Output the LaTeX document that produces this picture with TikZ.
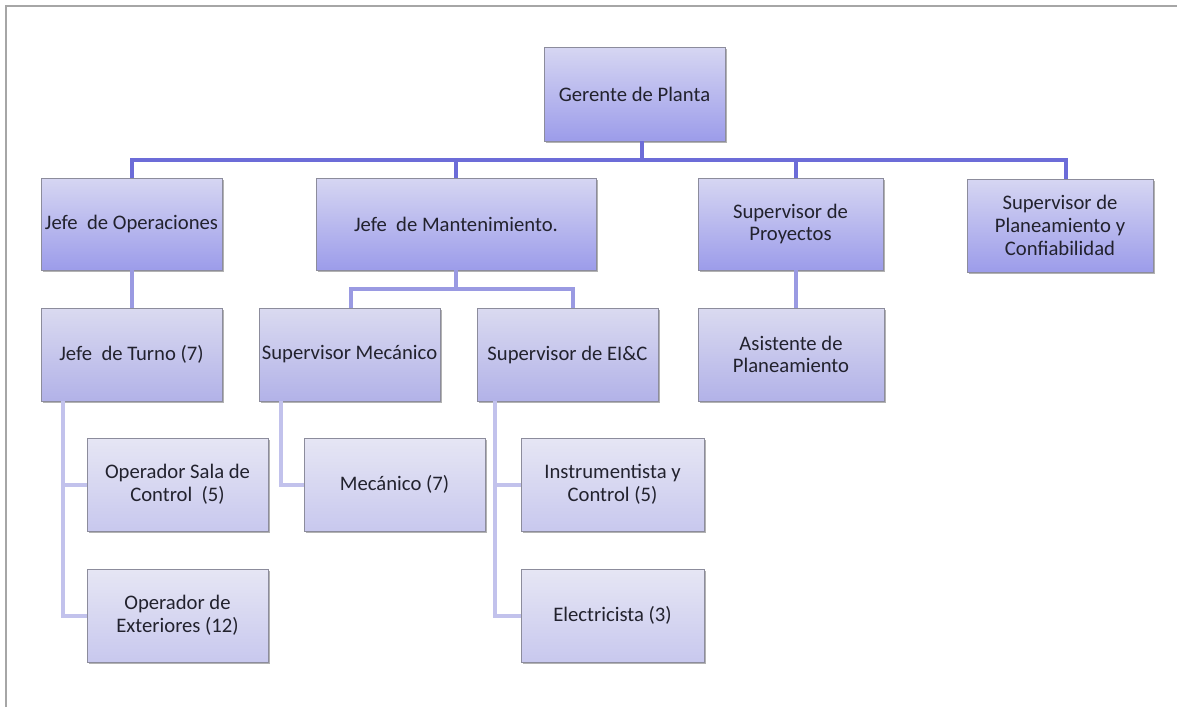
\documentclass[tikz,border=0pt]{standalone}
\usepackage{fontspec}
\setmainfont{Carlito}
\usetikzlibrary{calc,shadows}

\definecolor{frameGray}{HTML}{A6A6A6}
\definecolor{boxEdge}{HTML}{8C8C9C}
\definecolor{txt}{HTML}{22222E}
\definecolor{busAcol}{HTML}{6C6CD8}
\definecolor{busBcol}{HTML}{9A9AE2}
\definecolor{busCcol}{HTML}{C2C2EC}
\definecolor{aTop}{HTML}{D6D6F2}
\definecolor{aBot}{HTML}{9C9CEA}
\definecolor{bTop}{HTML}{DADAF0}
\definecolor{bBot}{HTML}{B2B2E8}
\definecolor{cTop}{HTML}{E6E6F4}
\definecolor{cBot}{HTML}{C8C8EE}

\tikzset{
  sz/.style 2 args={minimum width=#1*0.75pt, minimum height=#2*0.75pt},
  box/.style={draw=boxEdge, line width=0.6pt, align=center, inner xsep=0pt, inner ysep=1pt,
    text=txt, font=\fontsize{15.5}{17}\selectfont,
    drop shadow={shadow xshift=1.2pt, shadow yshift=-1.2pt, opacity=0.3, fill=black}},
  lvA/.style={box, top color=aTop, bottom color=aBot},
  lvB/.style={box, top color=bTop, bottom color=bBot},
  lvC/.style={box, top color=cTop, bottom color=cBot},
  busA/.style={draw=busAcol, line width=3pt, line join=miter},
  busB/.style={draw=busBcol, line width=3pt, line join=miter},
  busC/.style={draw=busCcol, line width=3pt, line join=miter},
}

\begin{document}
\begin{tikzpicture}[x=0.75pt, y=-0.75pt]
\useasboundingbox (0,0) rectangle (1177,707);

% page frame (left and top edges)
\draw[frameGray, line width=2.2pt] (6,707) -- (6,6) -- (1177,6);

% top level
\node[lvA, sz={181}{94}] (ger) at (634.5,94) {Gerente de Planta};

% second level
\node[lvA, sz={181}{92}] (jop) at (131.5,224) {Jefe\ \ de Operaciones};
\node[lvA, sz={280}{92}] (jman) at (456,224) {Jefe\ \ de Mantenimiento.};
\node[lvA, sz={185}{92}] (sproy) at (790.5,224) {Supervisor de\\Proyectos};
\node[lvA, sz={186}{93}] (splan) at (1060,225.5) {Supervisor de\\Planeamiento y\\Confiabilidad};

% third level
\node[lvB, sz={181}{93}] (jtur) at (131.5,354.5) {Jefe\ \ de Turno (7)};
\node[lvB, sz={181}{93}] (smec) at (349.5,354.5) {Supervisor Mecánico};
\node[lvB, sz={181}{93}] (seic) at (567.5,354.5) {Supervisor de EI\&C};
\node[lvB, sz={186}{93}] (asis) at (791,354.5) {Asistente de\\Planeamiento};

% fourth level
\node[lvC, sz={181}{93}] (osc) at (177.5,484.5) {Operador Sala de\\Control\ \ (5)};
\node[lvC, sz={181}{93}] (oext) at (177.5,615.5) {Operador de\\Exteriores (12)};
\node[lvC, sz={181}{93}] (mec) at (394.5,484.5) {Mecánico (7)};
\node[lvC, sz={183}{93}] (inst) at (612.5,484.5) {Instrumentista y\\Control (5)};
\node[lvC, sz={183}{93}] (elec) at (612.5,615.5) {Electricista (3)};

% main bus under the plant manager
\coordinate (bus) at (0,160);
\draw[busA] ($(ger.south)+(7.5,0)$) -- ($(ger.south |- bus)+(7.5,0)$);
\draw[busA] (jop.north) -- (jop.north |- bus) -- ($(splan.north |- bus)+(6,0)$) -- ($(splan.north)+(6,0)$);
\draw[busA] (jman.north) -- (jman.north |- bus);
\draw[busA] ($(sproy.north)+(5.5,0)$) -- ($(sproy.north |- bus)+(5.5,0)$);

% second to third level
\coordinate (bus2) at (0,289);
\draw[busB] (jop.south) -- (jtur.north);
\draw[busB] ($(sproy.south)+(5.5,0)$) -- ($(asis.north)+(5,0)$);
\draw[busB] (jman.south) -- (jman.south |- bus2);
\draw[busB] ($(smec.north)+(1.5,0)$) -- ($(smec.north |- bus2)+(1.5,0)$) -- ($(seic.north |- bus2)+(5.5,0)$) -- ($(seic.north)+(5.5,0)$);

% third to fourth level
\draw[busC] ($(jtur.south west)+(22,0)$) |- (osc.west);
\draw[busC] ($(jtur.south west)+(22,0)$) |- (oext.west);
\draw[busC] ($(smec.south west)+(22,0)$) |- (mec.west);
\draw[busC] ($(seic.south west)+(18,0)$) |- (inst.west);
\draw[busC] ($(seic.south west)+(18,0)$) |- (elec.west);
\end{tikzpicture}
\end{document}
